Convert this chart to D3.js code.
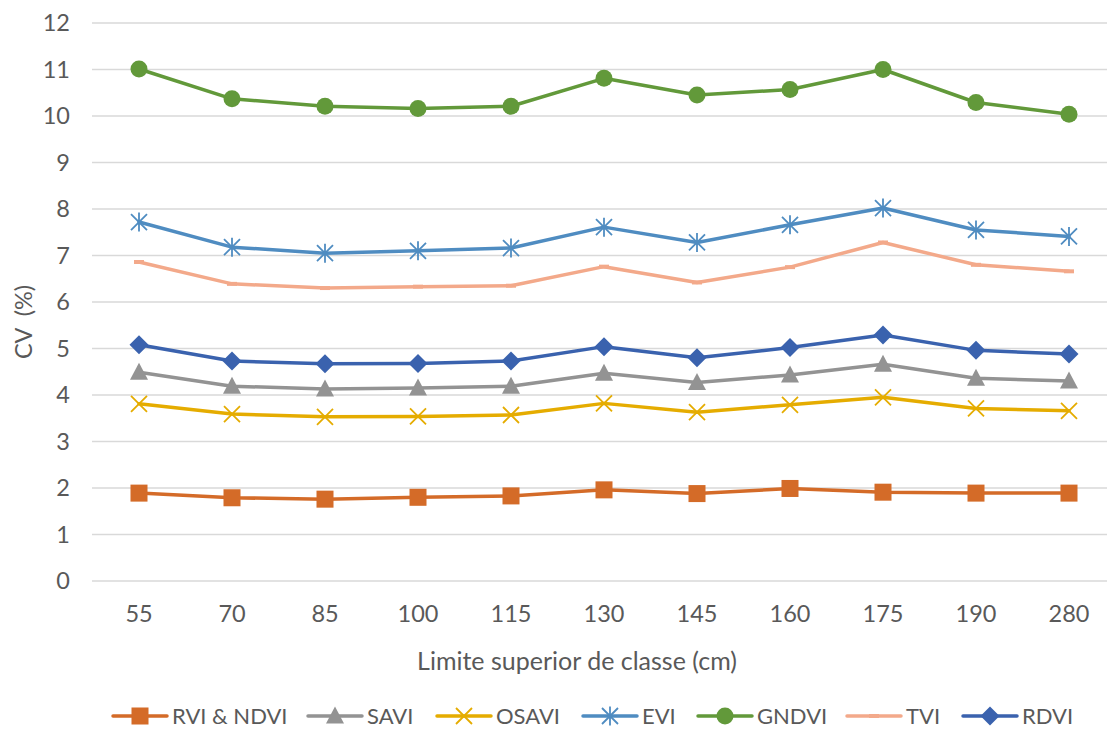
<!DOCTYPE html>
<html><head><meta charset="utf-8">
<script src="https://cdn.jsdelivr.net/npm/d3@7"></script>
<style>body{margin:0;background:#fff}svg{display:block;font-family:Lato,"Open Sans",sans-serif}</style>
</head><body><svg id="c" width="1107" height="729"></svg>
<script>
const categories = ["55","70","85","100","115","130","145","160","175","190","280"];
const yTicks = [0,1,2,3,4,5,6,7,8,9,10,11,12];
const seriesNames = ["RVI & NDVI","SAVI","OSAVI","EVI","GNDVI","TVI","RDVI"];
const rvi   = [1.89,1.79,1.76,1.80,1.83,1.96,1.88,1.99,1.91,1.89,1.89];
const savi  = [4.49,4.19,4.13,4.15,4.19,4.47,4.27,4.43,4.66,4.36,4.30];
const osavi = [3.81,3.59,3.53,3.54,3.57,3.82,3.63,3.79,3.95,3.71,3.66];
const evi   = [7.72,7.18,7.05,7.10,7.16,7.61,7.28,7.66,8.02,7.55,7.41];
const gndvi = [11.01,10.37,10.21,10.16,10.21,10.81,10.45,10.57,11.00,10.29,10.04];
const tvi   = [6.86,6.39,6.30,6.33,6.35,6.76,6.42,6.75,7.28,6.80,6.66];
const rdvi  = [5.08,4.73,4.67,4.68,4.73,5.04,4.80,5.02,5.29,4.96,4.88];
const colors = ["#D46B28","#939393","#E5AC00","#4F8CC1","#62993A","#F3A98A","#3A62AE"];
const markers = ["square","triangle","x","asterisk","circle","dash","diamond"];
const values = [rvi,savi,osavi,evi,gndvi,tvi,rdvi];
const xTitle = "Limite superior de classe (cm)";
const yTitle = "CV  (%)";

const FS = 23.5;
const svg = d3.select("#c");
const x = d3.scaleBand().domain(categories).range([92.5,1115.5]).padding(0);
const cx = c => x(c) + x.bandwidth()/2;
const y = d3.scaleLinear().domain([0,12]).range([581,23]);

svg.append("g").selectAll("line").data(yTicks).join("line")
  .attr("x1",92).attr("x2",1107).attr("y1",d=>y(d)).attr("y2",d=>y(d))
  .attr("stroke","#D9D9D9").attr("stroke-width",1.5);

const yAxis = svg.append("g").attr("transform","translate(70,0)")
  .call(d3.axisLeft(y).tickValues(yTicks).tickSize(0).tickPadding(0).tickFormat(d3.format("d")));
yAxis.select(".domain").remove();
yAxis.selectAll("text").attr("font-size",FS).attr("fill","#595959").attr("font-family","Lato");

const xAxis = svg.append("g").attr("transform","translate(0,605)")
  .call(d3.axisBottom(x).tickSize(0).tickPadding(0));
xAxis.select(".domain").remove();
xAxis.selectAll("text").attr("font-size",FS).attr("fill","#595959").attr("font-family","Lato").attr("dy","0.71em");

svg.append("text").attr("x",577).attr("y",670).attr("text-anchor","middle")
  .attr("font-size",25).attr("fill","#595959").text(xTitle);
svg.append("text").attr("transform","translate(32,322) rotate(-90)").attr("text-anchor","middle")
  .attr("font-size",FS).attr("fill","#595959").attr("xml:space","preserve").style("white-space","pre").text(yTitle);

function drawMarker(g, type, color){
  if(type==="square") g.append("rect").attr("x",-8.5).attr("y",-8.5).attr("width",17).attr("height",17).attr("fill",color);
  else if(type==="circle") g.append("circle").attr("r",8.5).attr("fill",color);
  else if(type==="triangle") g.append("path").attr("d","M0,-9.5L9,7.5L-9,7.5Z").attr("fill",color);
  else if(type==="diamond") g.append("path").attr("d","M0,-9.5L9.5,0L0,9.5L-9.5,0Z").attr("fill",color);
  else if(type==="x") g.append("path").attr("d","M-8,-8L8,8M-8,8L8,-8").attr("stroke",color).attr("stroke-width",1.8).attr("fill","none");
  else if(type==="asterisk") g.append("path").attr("d","M-8,-8L8,8M-8,8L8,-8M0,-9.5L0,9.5").attr("stroke",color).attr("stroke-width",1.8).attr("fill","none");
  else if(type==="dash") g.append("path").attr("d","M-5,0L5,0").attr("stroke",color).attr("stroke-width",4).attr("fill","none");
}

const line = d3.line().x((d,i)=>cx(categories[i])).y(d=>y(d));
seriesNames.forEach((name,si)=>{
  const g = svg.append("g");
  g.append("path").attr("d",line(values[si])).attr("fill","none")
    .attr("stroke",colors[si]).attr("stroke-width",3.5).attr("stroke-linejoin","round").attr("stroke-linecap","round");
  values[si].forEach((v,i)=>{
    const mg = g.append("g").attr("transform",`translate(${cx(categories[i])},${y(v)})`);
    drawMarker(mg, markers[si], colors[si]);
  });
});

const legendStarts = [113,308,437,583,698,847,963];
seriesNames.forEach((name,si)=>{
  const lg = svg.append("g").attr("transform",`translate(${legendStarts[si]},716)`);
  lg.append("line").attr("x1",0).attr("x2",54).attr("stroke",colors[si]).attr("stroke-width",3.5).attr("stroke-linecap","round");
  const mg = lg.append("g").attr("transform","translate(27,0)");
  drawMarker(mg, markers[si], colors[si]);
  lg.append("text").attr("x",59).attr("y",0).attr("dy","0.35em").attr("font-size",22).attr("fill","#595959").text(name);
});
</script></body></html>
